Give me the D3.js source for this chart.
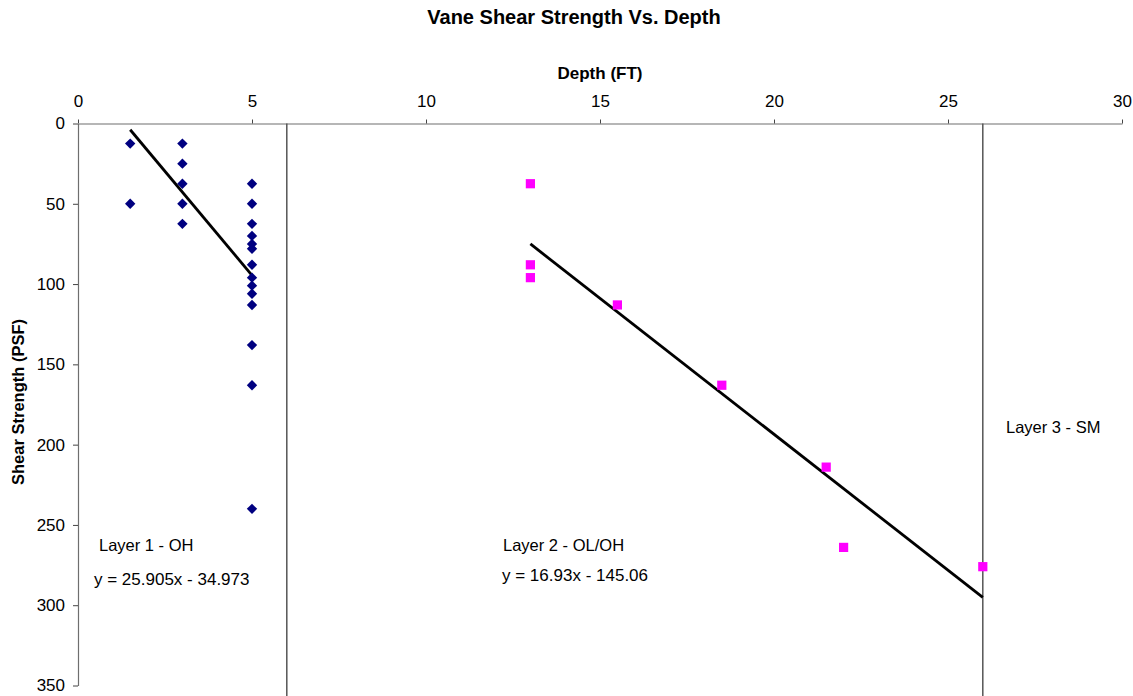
<!DOCTYPE html>
<html>
<head>
<meta charset="utf-8">
<script src="https://cdn.jsdelivr.net/npm/d3@7"></script>
<style>
  body { margin: 0; background: #fff; }
  text { font-family: Arial, "Liberation Sans", sans-serif; fill: #000; }
</style>
</head>
<body>
<div id="chart"></div>
<script>
// layer 1 (OH) vane readings: depth (ft), shear strength (psf)
const layer1Depth = [1.5, 1.5, 3, 3, 3, 3, 3, 5, 5, 5, 5, 5, 5, 5, 5, 5, 5, 5, 5, 5, 5];
const layer1Shear = [12.5, 50, 12.5, 25, 37.5, 50, 62.5, 37.5, 50, 62.5, 70, 75, 78, 88, 96, 101, 106, 113, 138, 163, 240];

// layer 2 (OL/OH) vane readings
const layer2Depth = [13, 13, 13, 15.5, 18.5, 21.5, 22, 26];
const layer2Shear = [37.5, 88, 96, 113, 163, 214, 264, 276];

// trendlines as printed on the chart
const trendSlope = [25.905, 16.93];
const trendIntercept = [-34.973, -145.06];
const trendRange = [[1.5, 5], [13, 26]];
const trendLabels = ["y = 25.905x - 34.973", "y = 16.93x - 145.06"];

// layer boundaries (depth) and layer names
const boundaries = [6, 26];
const layerNames = ["Layer 1 - OH", "Layer 2 - OL/OH", "Layer 3 - SM"];

const xTicks = [0, 5, 10, 15, 20, 25, 30];
const yTicks = [0, 50, 100, 150, 200, 250, 300, 350];

const width = 1133;
const height = 696;

const svg = d3.select('#chart').append('svg')
  .attr('width', width)
  .attr('height', height);

const x = d3.scaleLinear().domain([0, 30]).range([78, 1122]);
const y = d3.scaleLinear().domain([0, 350]).range([123.5, 685.5]);

// title
svg.append('text')
  .attr('x', 574).attr('y', 24)
  .attr('text-anchor', 'middle')
  .style('font-size', '20px').style('font-weight', 'bold')
  .text('Vane Shear Strength Vs. Depth');

// axes
const xAxis = svg.append('g')
  .attr('transform', `translate(0,${y(0)})`)
  .call(d3.axisTop(x).tickValues(xTicks).tickSize(4).tickSizeOuter(0).tickPadding(13));

const yAxis = svg.append('g')
  .attr('transform', `translate(${x(0)},0)`)
  .call(d3.axisLeft(y).tickValues(yTicks).tickSize(5).tickSizeOuter(0).tickPadding(8));

[xAxis, yAxis].forEach(g => {
  g.select('.domain').attr('stroke', '#6e6e6e').attr('stroke-width', 1.2);
  g.selectAll('.tick line').attr('stroke', '#444');
  g.selectAll('.tick text')
    .style('font-size', '17px')
    .style('font-family', 'Arial, "Liberation Sans", sans-serif')
    .attr('fill', '#000');
});

// axis titles
svg.append('text')
  .attr('x', 600).attr('y', 79)
  .attr('text-anchor', 'middle')
  .style('font-size', '17px').style('font-weight', 'bold')
  .text('Depth (FT)');

svg.append('text')
  .attr('transform', 'translate(24,402) rotate(-90)')
  .attr('text-anchor', 'middle')
  .style('font-size', '16.5px').style('font-weight', 'bold')
  .text('Shear Strength (PSF)');

// layer boundary lines
svg.selectAll('line.boundary').data(boundaries)
  .enter().append('line')
  .attr('class', 'boundary')
  .attr('x1', d => x(d)).attr('x2', d => x(d))
  .attr('y1', y(0)).attr('y2', height)
  .attr('stroke', '#555')
  .attr('stroke-width', 1.5);

// trendlines
svg.selectAll('line.trend').data(trendSlope)
  .enter().append('line')
  .attr('class', 'trend')
  .attr('x1', (d, i) => x(trendRange[i][0]))
  .attr('y1', (d, i) => y(d * trendRange[i][0] + trendIntercept[i]))
  .attr('x2', (d, i) => x(trendRange[i][1]))
  .attr('y2', (d, i) => y(d * trendRange[i][1] + trendIntercept[i]))
  .attr('stroke', '#000')
  .attr('stroke-width', 2.8);

// layer 1 points, navy diamonds
svg.selectAll('path.l1').data(layer1Depth)
  .enter().append('path')
  .attr('class', 'l1')
  .attr('d', d3.symbol(d3.symbolSquare, 54))
  .attr('transform', (d, i) => `translate(${x(d)},${y(layer1Shear[i])}) rotate(45)`)
  .attr('fill', '#000080');

// layer 2 points, magenta squares
svg.selectAll('path.l2').data(layer2Depth)
  .enter().append('path')
  .attr('class', 'l2')
  .attr('d', d3.symbol(d3.symbolSquare, 85))
  .attr('transform', (d, i) => `translate(${x(d)},${y(layer2Shear[i])})`)
  .attr('fill', '#ff00ff');

// labels in the plot
const labelPos = [[99, 551], [503, 551], [1006, 433]];
svg.selectAll('text.layer').data(layerNames)
  .enter().append('text')
  .attr('class', 'layer')
  .attr('x', (d, i) => labelPos[i][0])
  .attr('y', (d, i) => labelPos[i][1])
  .style('font-size', '16.5px')
  .text(d => d);

const eqPos = [[94, 585], [502, 581]];
svg.selectAll('text.eq').data(trendLabels)
  .enter().append('text')
  .attr('class', 'eq')
  .attr('x', (d, i) => eqPos[i][0])
  .attr('y', (d, i) => eqPos[i][1])
  .style('font-size', '17px')
  .text(d => d);
</script>
</body>
</html>
